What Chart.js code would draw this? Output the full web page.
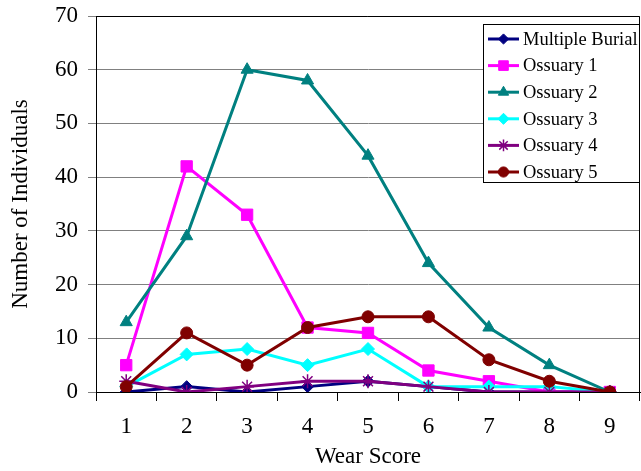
<!DOCTYPE html>
<html>
<head>
<meta charset="utf-8">
<script src="https://cdn.jsdelivr.net/npm/chart.js@4"></script>
<style>
  body { margin: 0; background: #fff; }
  #wrap { width: 641px; height: 471px; }
</style>
</head>
<body>
<div id="wrap"><canvas id="wearChart" width="641" height="471"></canvas></div>
<script>
const wearScores = ["1", "2", "3", "4", "5", "6", "7", "8", "9"];
const yTicks = [0, 10, 20, 30, 40, 50, 60, 70];

const multipleBurial = [0, 1, 0, 1, 2, 1, 0, 0, 0];
const ossuary1 = [5, 42, 33, 12, 11, 4, 2, 0, 0];
const ossuary2 = [13, 29, 60, 58, 44, 24, 12, 5, 0];
const ossuary3 = [1, 7, 8, 5, 8, 1, 1, 1, 0];
const ossuary4 = [2, 0, 1, 2, 2, 1, 0, 0, 0];
const ossuary5 = [1, 11, 5, 12, 14, 14, 6, 2, 0];

const serif = "'Liberation Serif', 'DejaVu Serif', serif";

function series(label, data, color, style, radius, order) {
  return {
    label: label,
    data: data,
    borderColor: color,
    backgroundColor: color,
    pointBackgroundColor: color,
    pointBorderColor: color,
    pointStyle: style,
    pointRadius: radius,
    pointBorderWidth: style === "star" ? 1.5 : 1,
    borderWidth: 3,
    tension: 0,
    fill: false,
    order: order,
  };
}

// legend drawn as a box inside the plot, like the original
const boxLegend = {
  id: "boxLegend",
  afterDraw(chart) {
    const c = chart.ctx;
    const area = chart.chartArea;
    const x0 = 483, y0 = 24, w = area.right - x0, h = 159;
    c.save();
    c.fillStyle = "#fff";
    c.fillRect(x0, y0, w, h);
    c.strokeStyle = "#000";
    c.lineWidth = 1;
    c.strokeRect(x0 + 0.5, y0 + 0.5, w - 1, h - 1);
    c.font = "18.5px " + serif;
    c.textBaseline = "middle";
    chart.data.datasets.forEach((ds, i) => {
      const y = y0 + 15 + i * 26.6;
      c.strokeStyle = ds.borderColor;
      c.lineWidth = 3;
      c.beginPath();
      c.moveTo(x0 + 5, y);
      c.lineTo(x0 + 36, y);
      c.stroke();
      c.fillStyle = ds.backgroundColor;
      c.lineWidth = ds.pointBorderWidth;
      Chart.helpers.drawPoint(c, {
        pointStyle: ds.pointStyle,
        radius: ds.pointRadius * 0.85,
        borderWidth: ds.pointBorderWidth,
      }, x0 + 20.5, y);
      c.fillStyle = "#000";
      c.fillText(ds.label, x0 + 40, y + 1);
    });
    c.restore();
  },
};

// top and right border of plot area
const plotFrame = {
  id: "plotFrame",
  beforeDatasetsDraw(chart) {
    const a = chart.chartArea;
    const c = chart.ctx;
    c.save();
    c.strokeStyle = "#000";
    c.lineWidth = 1;
    c.beginPath();
    c.moveTo(a.left, a.top + 0.5);
    c.lineTo(a.right - 0.5, a.top + 0.5);
    c.lineTo(a.right - 0.5, a.bottom);
    c.stroke();
    c.restore();
  },
};

const ctx = document.getElementById("wearChart").getContext("2d");
Chart.defaults.font.family = serif;
Chart.defaults.color = "#000";

const wearChart = new Chart(ctx, {
  type: "line",
  data: {
    labels: wearScores,
    datasets: [
      series("Multiple Burial", multipleBurial, "#000080", "rectRot", 6, 6),
      series("Ossuary 1", ossuary1, "#FF00FF", "rect", 8, 5),
      series("Ossuary 2", ossuary2, "#008080", "triangle", 7, 4),
      series("Ossuary 3", ossuary3, "#00FFFF", "rectRot", 6.5, 3),
      series("Ossuary 4", ossuary4, "#800080", "star", 7, 2),
      series("Ossuary 5", ossuary5, "#800000", "circle", 6, 1),
    ],
  },
  options: {
    responsive: false,
    animation: false,
    layout: { autoPadding: false, padding: { top: 16, right: 1, left: 0, bottom: 0 } },
    plugins: {
      legend: { display: false },
      tooltip: { enabled: false },
    },
    scales: {
      x: {
        offset: true,
        afterFit: (s) => {
          s.height = 79;
          s.paddingLeft = 0;
          s.paddingRight = 0;
        },
        grid: {
          offset: true,
          drawOnChartArea: false,
          drawTicks: true,
          tickLength: 9,
          color: "#000",
        },
        border: { color: "#000", width: 1 },
        ticks: { color: "#000", font: { size: 23, family: serif }, padding: 12 },
        title: {
          display: true,
          text: "Wear Score",
          color: "#000",
          font: { size: 23, family: serif },
          padding: { top: 0, bottom: 0 },
        },
      },
      y: {
        min: 0,
        max: 70,
        afterBuildTicks: (axis) => {
          axis.ticks = yTicks.map((v) => ({ value: v }));
        },
        afterFit: (s) => {
          s.width = 96;
          s.paddingTop = 0;
          s.paddingBottom = 0;
        },
        grid: {
          color: "#808080",
          lineWidth: 1,
          drawTicks: true,
          tickLength: 8,
        },
        border: { color: "#000", width: 1 },
        ticks: { color: "#000", font: { size: 23, family: serif }, padding: 10 },
        title: {
          display: true,
          text: "Number of Individuals",
          color: "#000",
          font: { size: 23, family: serif },
          padding: { top: 7, bottom: 0 },
        },
      },
    },
  },
  plugins: [plotFrame, boxLegend],
});
</script>
</body>
</html>
